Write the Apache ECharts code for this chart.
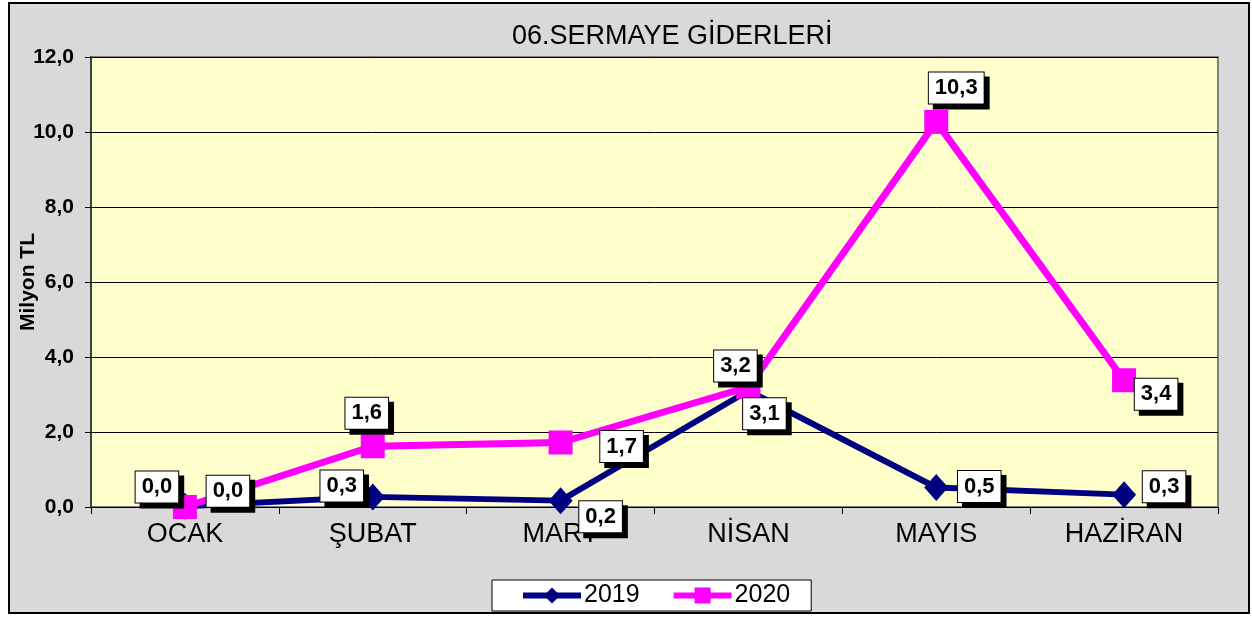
<!DOCTYPE html>
<html>
<head>
<meta charset="utf-8">
<title>06.SERMAYE GİDERLERİ</title>
<script src="https://cdn.jsdelivr.net/npm/echarts@6/dist/echarts.min.js"></script>
<style>
  body { margin: 0; background: #fff; }
  .frame {
    position: absolute;
    left: 8px; top: 2px;
    width: 1238px; height: 608px;
    background: #d9d9d9;
    border: 2px solid #000;
  }
  #chart {
    position: absolute;
    left: 0; top: 0;
    width: 1252px; height: 617px;
  }
</style>
</head>
<body>
<div class="frame"></div>
<div id="chart"></div>
<script>
// veriler (milyon TL)
var months = ['OCAK', 'ŞUBAT', 'MART', 'NİSAN', 'MAYIS', 'HAZİRAN']
var values2019 = [0.02, 0.27, 0.17, 3.1, 0.52, 0.33]
var values2020 = [0.0, 1.62, 1.72, 3.2, 10.27, 3.38]
var seriesNames = ['2019', '2020']
var colors = ['#000080', '#ff00ff']

// etiket kaymalari (px), etiketler noktanin ortasina gore
var offsets2019 = [[43, -15], [-31, -11], [40, 16], [16, 23], [43, -1], [40, -8]]
var offsets2020 = [[-28, -20], [-6, -33], [61, 4], [-13, -21], [20, -34], [32, 14]]

function fmt (v) {
  return v.toFixed(1).replace('.', ',')
}

var labelBox = {
  show: true,
  position: 'inside',
  color: '#000',
  fontFamily: 'Liberation Sans, Arial',
  fontSize: 22,
  fontWeight: 'bold',
  backgroundColor: '#fff',
  borderColor: '#000',
  borderWidth: 1,
  padding: [5, 6, 4, 6],
  shadowColor: '#000',
  shadowOffsetX: 5,
  shadowOffsetY: 5,
  shadowBlur: 0,
  formatter: function (p) {
    return fmt(p.value)
  }
}

function buildData (values, offsets) {
  return values.map(function (v, i) {
    return {
      value: v,
      label: Object.assign({}, labelBox, { offset: offsets[i] })
    }
  })
}

var myChart = echarts.init(document.getElementById('chart'), null, { renderer: 'canvas' })
var option = {
  backgroundColor: 'transparent',
  animation: false,
  textStyle: { fontFamily: 'Liberation Sans, Arial' },
  title: {
    text: '06.SERMAYE GİDERLERİ',
    left: 507,
    top: 18,
    textStyle: {
      fontSize: 27,
      fontWeight: 'normal',
      color: '#000',
      fontFamily: 'Liberation Sans, Arial'
    }
  },
  legend: {
    left: 492,
    top: 580,
    width: 320,
    padding: [3, 21, 3, 28],
    backgroundColor: '#fff',
    borderColor: '#000',
    borderWidth: 1,
    itemWidth: 58,
    itemHeight: 20,
    itemGap: 31,
    textStyle: { fontSize: 25, color: '#000', padding: [2, 0, 0, -2] },
    data: seriesNames.map(function (n, i) {
      return { name: n, lineStyle: { width: 6, color: colors[i] } }
    })
  },
  grid: {
    left: 91,
    top: 57,
    right: 34,
    bottom: 110,
    outerBoundsMode: 'none',
    show: true,
    backgroundColor: '#ffffcc',
    borderColor: '#808080',
    borderWidth: 2
  },
  xAxis: {
    type: 'category',
    data: months,
    boundaryGap: true,
    axisLine: { lineStyle: { color: '#000', width: 1 } },
    axisTick: { show: true, length: 7, lineStyle: { color: '#000' } },
    axisLabel: { fontSize: 27, color: '#000', margin: 14 }
  },
  yAxis: {
    type: 'value',
    min: 0,
    max: 12,
    interval: 2,
    name: 'Milyon TL',
    nameLocation: 'middle',
    nameRotate: 90,
    nameGap: 52,
    nameMoveOverlap: false,
    nameTextStyle: { fontSize: 21, fontWeight: 'bold', color: '#000' },
    axisLine: { show: true, lineStyle: { color: '#404040', width: 2 } },
    axisTick: { show: true, length: 6, lineStyle: { color: '#000' } },
    axisLabel: {
      fontSize: 21,
      fontWeight: 'bold',
      color: '#000',
      margin: 17,
      formatter: function (v) { return fmt(v) }
    },
    splitLine: { show: true, lineStyle: { color: '#000', width: 1 } }
  },
  series: [
    {
      name: seriesNames[0],
      type: 'line',
      symbol: 'diamond',
      symbolSize: [24, 27],
      lineStyle: { color: colors[0], width: 6 },
      itemStyle: { color: colors[0] },
      data: buildData(values2019, offsets2019)
    },
    {
      name: seriesNames[1],
      type: 'line',
      symbol: 'rect',
      symbolSize: 24,
      lineStyle: { color: colors[1], width: 7 },
      itemStyle: { color: colors[1] },
      data: buildData(values2020, offsets2020)
    }
  ]
}
myChart.setOption(option, true)
</script>
</body>
</html>
